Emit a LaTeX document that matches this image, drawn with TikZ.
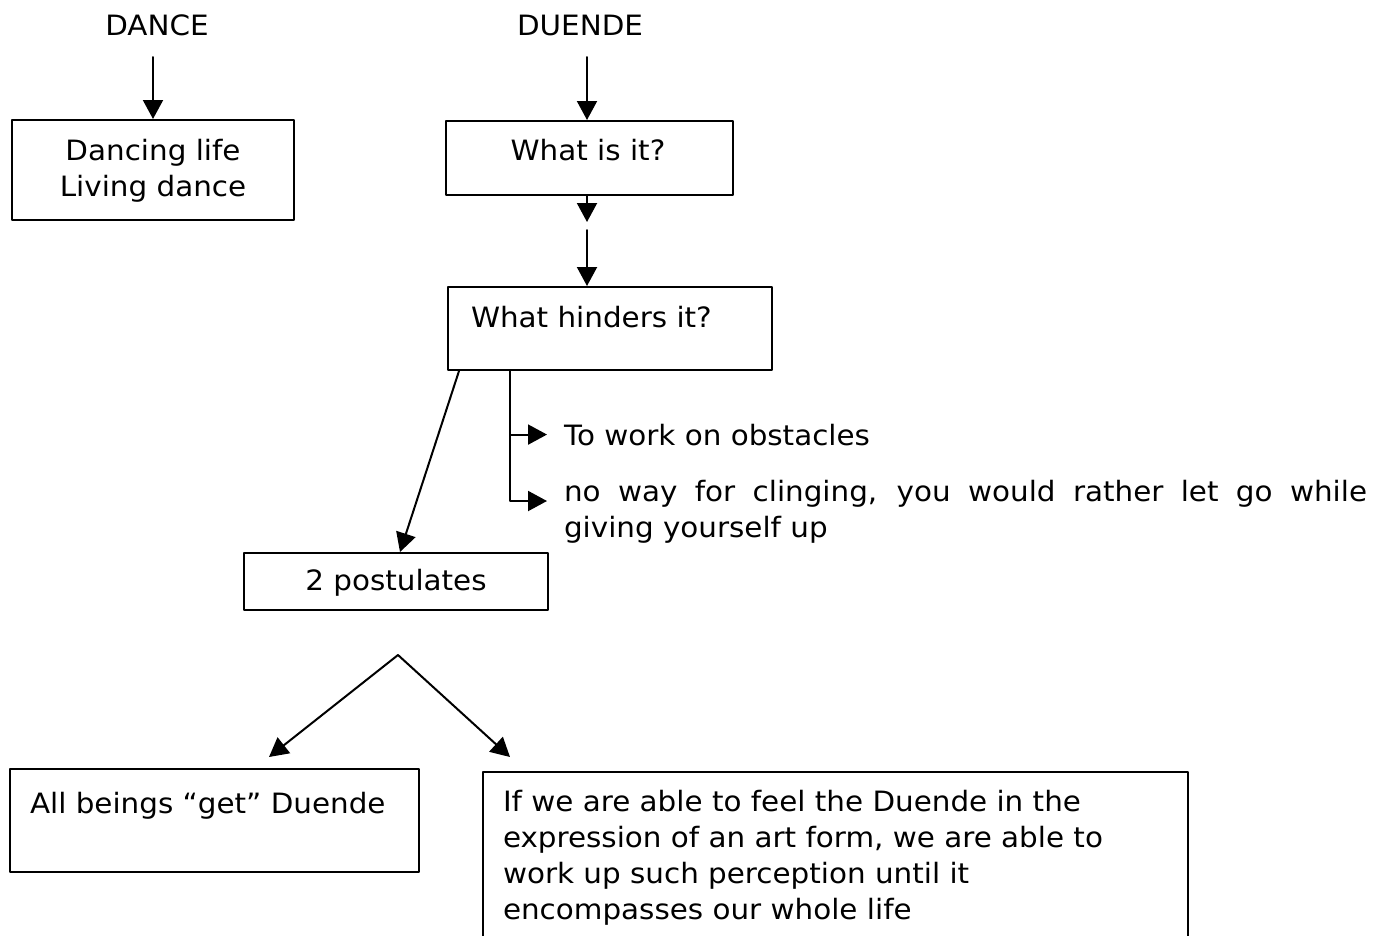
\documentclass[tikz,border=0pt]{standalone}
\usepackage{fontspec}
\setmainfont[FakeStretch=1.05]{DejaVu Sans}
\usetikzlibrary{arrows.meta}

\begin{document}
\begin{tikzpicture}[line cap=round,line join=round,>={Triangle[length=19pt,width=20pt]},x=1pt,y=-1pt,line width=2pt,
  frame/.style={draw, rectangle, line width=2pt, inner sep=0pt},
  txt/.style={font=\fontsize{28}{36}\selectfont, inner sep=0pt}]
                    \useasboundingbox (0,0) rectangle (1384,935);

                    \node[txt] (dance) at (157,25) {DANCE};
                    \node[txt] (duende) at (580,25) {DUENDE};

                    \node[frame, minimum width=282pt, minimum height=100pt] (life) at (153,170) {};
                    \node[txt, align=center] (lifetext) at (153,171) {Dancing life\\Living dance};

                    \node[frame, minimum width=287pt, minimum height=74pt] (what) at (589.5,158) {};
                    \node[txt, anchor=base] (whattext) at (588,160) {What is it?};

                    \node[frame, minimum width=324pt, minimum height=83pt] (hinder) at (610,328.5) {};
                    \node[txt, anchor=base west] (hindertext) at (470,327) {What hinders it?};

                    \node[txt, anchor=base west] (obst) at (563,445) {To work on obstacles};
                    \node[txt, anchor=north west, text width=803pt, align=justify] (cling) at (563,479)
                        {no way for clinging, you would rather let go while\linebreak giving yourself up};

                    \node[frame, minimum width=304pt, minimum height=57pt] (post) at (396,581.5) {};
                    \node[txt, anchor=base] (posttext) at (396,590) {2 postulates};

                    \node[frame, minimum width=409pt, minimum height=103pt] (beings) at (214.5,820.5) {};
                    \node[txt, anchor=base west] (beingstext) at (29,813) {All beings “get” Duende};

                    \node[frame, minimum width=705pt, minimum height=190pt] (form) at (835.5,867) {};
                    \node[txt, anchor=north west, align=left] (formtext) at (502,789)
                        {If we are able to feel the Duende in the\\expression of an art form, we are able to\\work up such perception until it\\encompasses our whole life};

                    \coordinate (d1) at (153,57);
                    \draw [->] (d1) -- (d1 |- life.north);
                    \coordinate (d2) at (587,57);
                    \draw [->] (d2) -- (d2 |- what.north);

                    \coordinate (w1) at (587,222);
                    \draw [->] (w1 |- what.south) -- (w1);
                    \coordinate (w2) at (587,230);
                    \draw [->] (w2) -- (w2 |- hinder.north);

                    \draw [->] ([xshift=12pt]hinder.south west) -- ([xshift=4pt]post.north);

                    \coordinate (b0) at ([xshift=63pt]hinder.south west);
                    \coordinate (c1) at (547,501);
                    \draw [->] (b0) |- ([xshift=-16pt]obst.west);
                    \draw [->] (b0) |- (c1);

                    \coordinate (apex) at (398,655);
                    \coordinate (lt) at (269,757);
                    \coordinate (rt) at (510,757);
                    \draw [->] (apex) -- (lt);
                    \draw [->] (apex) -- (rt);
\end{tikzpicture}
\end{document}
